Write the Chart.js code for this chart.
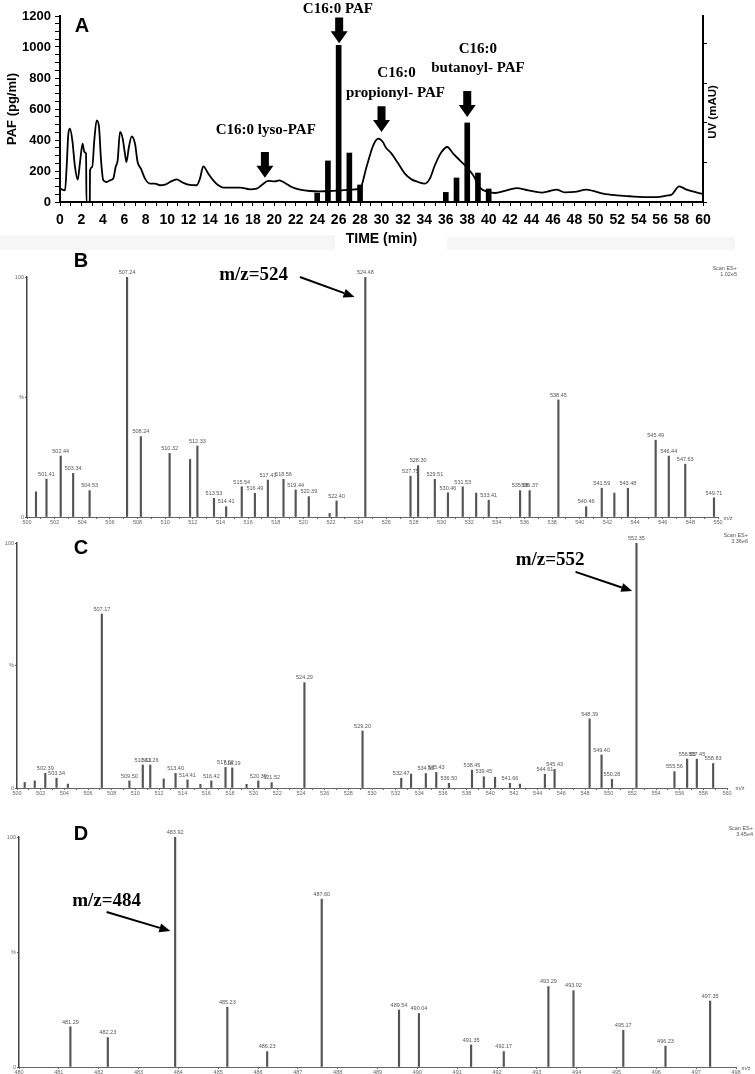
<!DOCTYPE html>
<html>
<head>
<meta charset="utf-8">
<script src="https://cdn.jsdelivr.net/npm/chart.js@4.4.0/dist/chart.umd.min.js"></script>
<style>
  body { margin: 0; background: #fff; }
  #wrap { position: relative; width: 755px; height: 1074px; overflow: hidden; }
  canvas { position: absolute; left: 0; }
</style>
</head>
<body>
<div id="wrap">
  <canvas id="chartA" width="755" height="250" style="top:0px"></canvas>
  <canvas id="chartB" width="755" height="290" style="top:240px"></canvas>
  <canvas id="chartC" width="755" height="270" style="top:530px"></canvas>
  <canvas id="chartD" width="755" height="274" style="top:800px"></canvas>
</div>
<script>
// Panel A - PAF in HPLC fractions (bars) over the UV trace
const fractionTime = [24, 25, 26, 27, 28, 36, 37, 38, 39, 40];
const fractionPAF = [58, 265, 1010, 316, 110, 62, 155, 510, 187, 84];

const uvTime = [0, 0.47, 0.62, 0.78, 0.93, 1.15, 1.4, 1.65, 1.87, 2.11, 2.27, 2.43, 2.47, 2.78, 2.8,
  3.01, 3.2, 3.42, 3.64, 3.83, 4.04, 4.35, 4.66, 4.97, 5.19, 5.38, 5.6, 5.85, 6.06, 6.2, 6.43, 6.69,
  7.0, 7.24, 7.55, 7.93, 8.4, 8.86, 9.33, 9.8, 10.26, 10.89, 11.35, 11.97, 12.75, 13.06, 13.37, 13.84,
  14.3, 14.77, 15.24, 15.86, 16.8, 17.72, 18.35, 18.81, 19.43, 20.06, 20.46, 20.99, 21.61, 22.39,
  23.32, 24.25, 25.19, 26.12, 27.21, 27.99, 28.6, 29.23, 29.7, 30.1, 30.4, 30.9, 31.56, 32.18, 32.8,
  33.42, 34.05, 34.51, 34.98, 35.6, 36.13, 36.69, 37.31, 37.94, 38.56, 39.18, 39.96, 40.58, 41.51,
  42.6, 43.69, 44.93, 45.71, 46.33, 47.1, 48.03, 49.13, 49.75, 50.68, 51.93, 53.17, 54.41, 55.66,
  56.75, 57.06, 57.77, 58.46, 59.24, 59.86, 60];
const uvLevel = [86, 75, 226, 441, 473, 398, 226, 144, 258, 376, 322, 312, 0, 0, 204,
  226, 398, 527, 484, 269, 140, 129, 140, 151, 226, 269, 452, 409, 312, 258, 355, 424,
  376, 258, 215, 151, 119, 119, 108, 112, 129, 146, 129, 112, 108, 151, 230, 183,
  140, 108, 93, 93, 93, 82, 86, 108, 136, 133, 140, 123, 97, 80,
  71, 69, 71, 75, 80, 86, 226, 366, 409, 390, 352, 315, 248, 183, 146,
  129, 119, 151, 237, 322, 355, 312, 269, 226, 172, 93, 65, 58, 71,
  90, 75, 61, 71, 80, 62, 65, 80, 71, 54, 43, 37, 32, 32,
  43, 47, 101, 80, 65, 54, 52];

// Panel B - spectrum, m/z 500-550
const mzB = [500.65, 501.41, 502.44, 503.34, 504.53, 507.24, 508.24, 510.32, 511.8, 512.33, 513.53,
  514.41, 515.54, 516.49, 517.43, 518.56, 519.44, 520.39, 521.9, 522.40, 524.48, 527.75, 528.30,
  529.51, 530.46, 531.53, 532.5, 533.41, 535.68, 536.37, 538.45, 540.46, 541.59, 542.5, 543.48,
  545.49, 546.44, 547.63, 549.71];
const intB = [10.5, 15.8, 25.4, 18.2, 11, 100, 33.5, 26.5, 24, 29.6, 7.8,
  4.3, 12.6, 9.9, 15.4, 15.7, 11.3, 8.5, 1.5, 6.7, 100, 17, 21.4,
  15.7, 10.1, 12.6, 10, 7, 11, 11, 48.8, 4.3, 12, 10, 12,
  32, 25.4, 22, 8];
const tagB = ['', '501.41', '502.44', '503.34', '504.53', '507.24', '508.24', '510.32', '', '512.33', '513.53',
  '514.41', '515.54', '516.49', '517.43', '518.56', '519.44', '520.39', '', '522.40', '524.48', '527.75', '528.30',
  '529.51', '530.46', '531.53', '', '533.41', '535.68', '536.37', '538.45', '540.46', '541.59', '', '543.48',
  '545.49', '546.44', '547.63', '549.71'];

// Panel C - spectrum, m/z 500-560
const mzC = [500.65, 501.5, 502.39, 503.34, 504.3, 507.17, 509.50, 510.63, 511.26, 512.4, 513.40,
  514.41, 515.5, 516.42, 517.62, 518.19, 519.4, 520.39, 521.52, 524.29, 529.20, 532.47, 533.3,
  534.55, 535.43, 536.50, 538.45, 539.45, 540.4, 541.66, 542.5, 544.61, 545.43, 548.39, 549.40,
  550.28, 552.35, 555.56, 556.63, 557.45, 558.83];
const intC = [2.3, 2.9, 6, 4, 1.6, 71, 2.9, 9.4, 9.4, 3.7, 6,
  3.3, 1.5, 2.9, 8.4, 8.2, 1.5, 2.9, 2.2, 43, 23.3, 4, 5.7,
  5.9, 6.4, 1.9, 7.3, 4.6, 4.4, 1.9, 1.6, 5.6, 7.6, 28.2, 13.5,
  3.5, 100, 6.7, 11.8, 11.8, 10];
const tagC = ['', '', '502.39', '503.34', '', '507.17', '509.50', '510.63', '511.26', '', '513.40',
  '514.41', '', '516.42', '517.62', '518.19', '', '520.39', '521.52', '524.29', '529.20', '532.47', '',
  '534.55', '535.43', '536.50', '538.45', '539.45', '', '541.66', '', '544.61', '545.43', '548.39', '549.40',
  '550.28', '552.35', '555.56', '556.63', '557.45', '558.83'];

// Panel D - spectrum, m/z 480-498
const mzD = [481.29, 482.23, 483.92, 485.23, 486.23, 487.60, 489.54, 490.04, 491.35, 492.17,
  493.29, 493.92, 495.17, 496.23, 497.35];
const intD = [17.5, 12.8, 100, 26, 6.7, 73, 24.8, 23.3, 9.6, 6.7, 35, 33.2, 16, 9.1, 28.7];
const tagD = ['481.29', '482.23', '483.92', '485.23', '486.23', '487.60', '489.54', '490.04', '491.35',
  '492.17', '493.29', '493.92', '495.17', '496.23', '497.35'];

const sans = "'Liberation Sans', Arial, sans-serif";
const serif = "'Liberation Serif', 'Times New Roman', serif";

Chart.defaults.animation = false;
Chart.defaults.font.family = sans;

function blockArrow(ctx, cx, yTop, yTip) {
  const shaft = 4, head = 8.5, headLen = 12;
  ctx.beginPath();
  ctx.moveTo(cx - shaft, yTop);
  ctx.lineTo(cx + shaft, yTop);
  ctx.lineTo(cx + shaft, yTip - headLen);
  ctx.lineTo(cx + head, yTip - headLen);
  ctx.lineTo(cx, yTip);
  ctx.lineTo(cx - head, yTip - headLen);
  ctx.lineTo(cx - shaft, yTip - headLen);
  ctx.closePath();
  ctx.fill();
}

function lineArrow(ctx, x1, y1, x2, y2) {
  const ang = Math.atan2(y2 - y1, x2 - x1);
  const len = 11, half = 4.5;
  const bx = x2 - len * Math.cos(ang), by = y2 - len * Math.sin(ang);
  ctx.lineWidth = 2;
  ctx.beginPath(); ctx.moveTo(x1, y1); ctx.lineTo(bx, by); ctx.stroke();
  ctx.beginPath();
  ctx.moveTo(x2, y2);
  ctx.lineTo(bx + half * Math.sin(ang), by - half * Math.cos(ang));
  ctx.lineTo(bx - half * Math.sin(ang), by + half * Math.cos(ang));
  ctx.closePath(); ctx.fill();
}

// annotations: data-space texts/arrows plus a few fixed captions
const notes = {
  id: 'notes',
  beforeDraw(chart, args, opts) {
    const ctx = chart.ctx;
    (opts.bands || []).forEach(b => {
      ctx.fillStyle = b.color;
      ctx.fillRect(b.px, b.py, b.w, b.h);
    });
  },
  afterDraw(chart, args, opts) {
    const { ctx, scales: { x, y } } = chart;
    ctx.save();
    ctx.fillStyle = '#000';
    ctx.strokeStyle = '#000';
    (opts.blocks || []).forEach(b => {
      blockArrow(ctx, x.getPixelForValue(b.x), y.getPixelForValue(b.y1), y.getPixelForValue(b.y2));
    });
    (opts.arrows || []).forEach(a => {
      lineArrow(ctx, x.getPixelForValue(a.x1), y.getPixelForValue(a.y1),
        x.getPixelForValue(a.x2), y.getPixelForValue(a.y2));
    });
    (opts.texts || []).forEach(t => {
      ctx.font = t.font;
      ctx.fillStyle = t.color || '#000';
      ctx.textAlign = t.align || 'center';
      ctx.textBaseline = 'middle';
      const px = t.px !== undefined ? t.px : x.getPixelForValue(t.x);
      const py = t.py !== undefined ? t.py : y.getPixelForValue(t.y);
      ctx.save();
      ctx.translate(px, py);
      if (t.rot) ctx.rotate(t.rot);
      ctx.fillText(t.text, 0, 0);
      ctx.restore();
    });
    ctx.restore();
  }
};

// small m/z captions above each spectrum peak
const peakTags = {
  id: 'peakTags',
  afterDatasetsDraw(chart, args, opts) {
    const ctx = chart.ctx;
    const meta = chart.getDatasetMeta(0);
    ctx.save();
    ctx.font = '5.5px ' + sans;
    ctx.fillStyle = '#555';
    ctx.textAlign = 'center';
    ctx.textBaseline = 'bottom';
    meta.data.forEach((bar, i) => {
      const tag = opts.tags[i];
      if (tag) ctx.fillText(tag, bar.x, bar.y - 2);
    });
    ctx.restore();
  }
};

new Chart(document.getElementById('chartA'), {
  type: 'bar',
  data: {
    datasets: [
      {
        type: 'line',
        data: uvTime.map((t, i) => ({ x: t, y: uvLevel[i] })),
        borderColor: '#000',
        borderWidth: 1.8,
        pointRadius: 0,
        cubicInterpolationMode: 'monotone',
        fill: false
      },
      {
        data: fractionTime.map((t, i) => ({ x: t, y: fractionPAF[i] })),
        backgroundColor: '#000',
        barThickness: 5
      }
    ]
  },
  options: {
    responsive: false,
    layout: { padding: { top: 16, left: 0, right: 0, bottom: 0 } },
    plugins: {
      legend: { display: false },
      tooltip: { enabled: false },
      notes: {
        bands: [
          { px: 0, py: 235, w: 335, h: 15, color: '#f6f6f6' },
          { px: 447, py: 237, w: 288, h: 13, color: '#f6f6f6' }
        ],
        blocks: [
          { x: 26.05, y1: 1191, y2: 1024 },
          { x: 19.12, y1: 322, y2: 157 },
          { x: 30.0, y1: 617, y2: 452 },
          { x: 38.0, y1: 716, y2: 548 }
        ],
        texts: [
          { x: 25.93, y: 1243, text: 'C16:0 PAF', font: 'bold 15px ' + serif },
          { x: 19.2, y: 462, text: 'C16:0 lyso-PAF', font: 'bold 15px ' + serif },
          { x: 31.4, y: 830, text: 'C16:0', font: 'bold 15px ' + serif },
          { x: 31.3, y: 701, text: 'propionyl- PAF', font: 'bold 15px ' + serif },
          { x: 39.0, y: 985, text: 'C16:0', font: 'bold 15px ' + serif },
          { x: 39.0, y: 862, text: 'butanoyl- PAF', font: 'bold 15px ' + serif },
          { px: 82, py: 26, text: 'A', font: 'bold 20px ' + sans },
          { px: 713, py: 112, text: 'UV (mAU)', font: 'bold 11.5px ' + sans, rot: -Math.PI / 2 }
        ]
      }
    },
    scales: {
      x: {
        type: 'linear', min: 0, max: 60, offset: false,
        afterFit: s => { s.height = 48; },
        ticks: {
          stepSize: 1, autoSkip: false, maxRotation: 0, padding: 6, color: '#000',
          font: { family: sans, size: 14, weight: 'bold' },
          callback: v => (v % 2 === 0 ? v : '')
        },
        grid: { drawOnChartArea: false, offset: false, color: '#000', tickLength: 4 },
        border: { color: '#000', width: 2 },
        title: {
          display: true, text: 'TIME (min)', color: '#000',
          font: { family: sans, size: 14, weight: 'bold' }, padding: { top: 0, bottom: 2 }
        }
      },
      y: {
        min: 0, max: 1200,
        afterFit: s => { s.width = 60; },
        ticks: {
          stepSize: 50, autoSkip: false, padding: 4, color: '#000',
          font: { family: sans, size: 13, weight: 'bold' },
          callback: v => (v % 200 === 0 ? v : '')
        },
        grid: { drawOnChartArea: false, color: '#000', tickLength: 5 },
        border: { color: '#000', width: 2 },
        title: {
          display: true, text: 'PAF (pg/ml)', color: '#000',
          font: { family: sans, size: 13, weight: 'bold' }, padding: { top: 5, bottom: 0 }
        }
      },
      y2: {
        position: 'right', min: 0, max: 4.7,
        afterFit: s => { s.width = 52; },
        afterBuildTicks: s => { s.ticks = s.ticks.filter(t => Number.isInteger(t.value)); },
        ticks: { stepSize: 1, display: false },
        grid: { drawOnChartArea: false, color: '#000', tickLength: 4 },
        border: { color: '#000', width: 2 }
      }
    }
  },
  plugins: [notes]
});

function drawSpectrum(id, mz, inten, tags, range, frame, extra) {
  new Chart(document.getElementById(id), {
    type: 'bar',
    data: {
      datasets: [{
        data: mz.map((m, i) => ({ x: m, y: inten[i] })),
        backgroundColor: '#555',
        barThickness: 1.5
      }]
    },
    options: {
      responsive: false,
      layout: { padding: { top: frame.top, right: frame.right, left: 0, bottom: 0 } },
      plugins: {
        legend: { display: false },
        tooltip: { enabled: false },
        peakTags: { tags: tags },
        notes: extra
      },
      scales: {
        x: {
          type: 'linear', min: range[0], max: range[1], offset: false,
          afterFit: s => { s.height = frame.xh; },
          ticks: {
            stepSize: 1, autoSkip: false, maxRotation: 0, padding: 0, color: '#666',
            font: { size: 5.5 }, callback: v => (v % range[2] === 0 ? v : '')
          },
          grid: { drawOnChartArea: false, offset: false, color: '#666', tickLength: 2 },
          border: { color: '#666', width: 1 }
        },
        y: {
          min: 0, max: 100,
          afterFit: s => { s.width = frame.yw; },
          ticks: {
            stepSize: 50, autoSkip: false, padding: 1, color: '#666', font: { size: 5.5 },
            callback: v => (v === 50 ? '%' : v)
          },
          grid: { drawOnChartArea: false, color: '#555', tickLength: 2 },
          border: { color: '#444', width: 1.5 }
        }
      }
    },
    plugins: [peakTags, notes]
  });
}

const capFont = '5.5px ' + sans;
const mzFont = 'bold 19px ' + serif;

drawSpectrum('chartB', mzB, intB, tagB, [500, 550, 2], { top: 37, right: 37, yw: 27, xh: 13 }, {
  arrows: [{ x1: 519.75, y1: 100, x2: 523.7, y2: 91.7 }],
  texts: [
    { x: 516.4, y: 100.8, text: 'm/z=524', font: mzFont },
    { px: 81, py: 21, text: 'B', font: 'bold 20px ' + sans },
    { px: 737, py: 28, text: 'Scan ES+', font: capFont, align: 'right', color: '#555' },
    { px: 737, py: 34, text: '1.02e5', font: capFont, align: 'right', color: '#555' },
    { px: 728, py: 278, text: 'm/z', font: capFont, color: '#555' }
  ]
});

drawSpectrum('chartC', mzC, intC, tagC, [500, 560, 2], { top: 13, right: 28, yw: 17, xh: 12 }, {
  arrows: [{ x1: 547.2, y1: 88.2, x2: 551.99, y2: 80.4 }],
  texts: [
    { x: 545.05, y: 93, text: 'm/z=552', font: mzFont },
    { px: 81, py: 18, text: 'C', font: 'bold 20px ' + sans },
    { px: 748, py: 5, text: 'Scan ES+', font: capFont, align: 'right', color: '#555' },
    { px: 748, py: 11, text: '3.36e6', font: capFont, align: 'right', color: '#555' },
    { px: 740, py: 258, text: 'm/z', font: capFont, color: '#555' }
  ]
});

drawSpectrum('chartD', mzD, intD, tagD, [480, 498, 1], { top: 37, right: 19, yw: 19, xh: 7 }, {
  arrows: [{ x1: 482.2, y1: 67.4, x2: 483.8, y2: 59.1 }],
  texts: [
    { x: 482.2, y: 72.2, text: 'm/z=484', font: mzFont },
    { px: 81, py: 34, text: 'D', font: 'bold 20px ' + sans },
    { px: 753, py: 28, text: 'Scan ES+', font: capFont, align: 'right', color: '#555' },
    { px: 753, py: 34, text: '3.45e4', font: capFont, align: 'right', color: '#555' },
    { px: 746, py: 268, text: 'm/z', font: capFont, color: '#555' }
  ]
});
</script>
</body>
</html>
